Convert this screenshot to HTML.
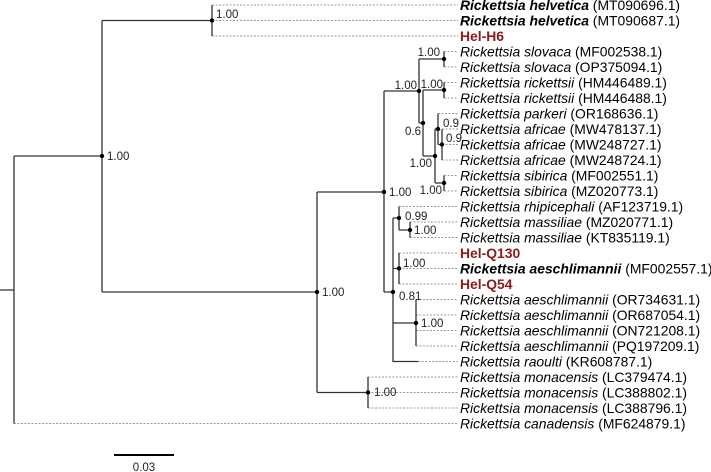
<!DOCTYPE html>
<html><head><meta charset="utf-8"><style>
html,body{margin:0;padding:0;background:#fff;}
svg{display:block;}
.s{stroke:#333;stroke-width:1.3;fill:none;}
.d{stroke:#999;stroke-width:1;stroke-dasharray:2,1.5;fill:none;}
.n{font-family:"Liberation Sans",sans-serif;font-size:11.5px;fill:#222;}
.l{font-family:"Liberation Sans",sans-serif;font-size:13.9px;fill:#000;}
.r{font-weight:bold;fill:#8b1a1a;}
</style></head><body>
<svg width="711" height="472" viewBox="0 0 711 472" xmlns="http://www.w3.org/2000/svg">
<g class="d">
<path d="M212 5H458M212 20.5H458M212 36H458"/>
<path d="M444 51.5H458M444 67H458M444 82.5H458M444 98H458"/>
<path d="M438 113.5H458M442 129H458M442 144.5H458M442 160H458"/>
<path d="M444 175.5H458M444 191H458"/>
<path d="M399 206.5H458M410 222H458M410 237.5H458"/>
<path d="M399 253H458M399 268.5H458M399 284H458"/>
<path d="M416 299.5H458M416 315H458M416 330.5H458M416 346H458"/>
<path d="M418 361.5H458"/>
<path d="M368 377H458M368 392.5H458M368 408H458"/>
<path d="M14 423.5H458"/>
</g>
<g class="s">
<path d="M0 290H14M14 156V423.5"/>
<path d="M14 156H102M102 20.5V292"/>
<path d="M102 20.5H212M212 5V36"/>
<path d="M102 292H317M317 192V392.5"/>
<path d="M317 392.5H368M368 377V408"/>
<path d="M317 192H384M384 91V292"/>
<path d="M384 91H419M419 59V123"/>
<path d="M419 59H444M444 51.5V67"/>
<path d="M419 123H423M423 90V156"/>
<path d="M423 90H444M444 82.5V98"/>
<path d="M423 156H435M435 129V183"/>
<path d="M435 183H444M444 175.5V191"/>
<path d="M435 129H438M438 113.5V144.5"/>
<path d="M438 144.5H442M442 129V160"/>
<path d="M384 292H393M393 218V361.5H418"/>
<path d="M393 218H399M399 206.5V230"/>
<path d="M399 230H410M410 222V237.5"/>
<path d="M393 268.5H399M399 253V284"/>
<path d="M393 323H416M416 299.5V346"/>
</g>
<g fill="#000">
<circle cx="212" cy="20.5" r="2.2"/><circle cx="102" cy="156" r="2.2"/>
<circle cx="317" cy="292" r="2.2"/><circle cx="368" cy="392.5" r="2.2"/>
<circle cx="384" cy="192" r="2.2"/><circle cx="419" cy="91" r="2.2"/>
<circle cx="444" cy="59" r="2.2"/><circle cx="423" cy="123" r="2.2"/>
<circle cx="444" cy="90" r="2.2"/><circle cx="435" cy="156" r="2.2"/>
<circle cx="444" cy="183" r="2.2"/><circle cx="438" cy="129" r="2.2"/>
<circle cx="442" cy="144.5" r="2.2"/><circle cx="393" cy="292" r="2.2"/>
<circle cx="399" cy="218" r="2.2"/><circle cx="410" cy="230" r="2.2"/>
<circle cx="399" cy="268.5" r="2.2"/><circle cx="416" cy="323" r="2.2"/>
</g>
<g class="n">
<text x="216" y="18">1.00</text>
<text x="107" y="160">1.00</text>
<text x="322" y="296">1.00</text>
<text x="389" y="196">1.00</text>
<text x="417" y="89" text-anchor="end">1.00</text>
<text x="440" y="56" text-anchor="end">1.00</text>
<text x="443" y="88" text-anchor="end">1.00</text>
<text x="421" y="135" text-anchor="end">0.6</text>
<text x="432" y="167" text-anchor="end">1.00</text>
<text x="442" y="194" text-anchor="end">1.00</text>
<text x="443" y="127">0.9</text>
<text x="446" y="142">0.9</text>
<text x="405" y="220">0.99</text>
<text x="414" y="234">1.00</text>
<text x="403" y="267">1.00</text>
<text x="399" y="300">0.81</text>
<text x="421" y="327">1.00</text>
<text x="374" y="396">1.00</text>
</g>
<g class="l">
<text x="460" y="10"><tspan font-weight="bold" font-style="italic">Rickettsia helvetica</tspan> (MT090696.1)</text>
<text x="460" y="25.5"><tspan font-weight="bold" font-style="italic">Rickettsia helvetica</tspan> (MT090687.1)</text>
<text x="460" y="41" class="l r">Hel-H6</text>
<text x="460" y="56.5"><tspan font-style="italic">Rickettsia slovaca</tspan> (MF002538.1)</text>
<text x="460" y="72"><tspan font-style="italic">Rickettsia slovaca</tspan> (OP375094.1)</text>
<text x="460" y="87.5"><tspan font-style="italic">Rickettsia rickettsii</tspan> (HM446489.1)</text>
<text x="460" y="103"><tspan font-style="italic">Rickettsia rickettsii</tspan> (HM446488.1)</text>
<text x="460" y="118.5"><tspan font-style="italic">Rickettsia parkeri</tspan> (OR168636.1)</text>
<text x="460" y="134"><tspan font-style="italic">Rickettsia africae</tspan> (MW478137.1)</text>
<text x="460" y="149.5"><tspan font-style="italic">Rickettsia africae</tspan> (MW248727.1)</text>
<text x="460" y="165"><tspan font-style="italic">Rickettsia africae</tspan> (MW248724.1)</text>
<text x="460" y="180.5"><tspan font-style="italic">Rickettsia sibirica</tspan> (MF002551.1)</text>
<text x="460" y="196"><tspan font-style="italic">Rickettsia sibirica</tspan> (MZ020773.1)</text>
<text x="460" y="211.5"><tspan font-style="italic">Rickettsia rhipicephali</tspan> (AF123719.1)</text>
<text x="460" y="227"><tspan font-style="italic">Rickettsia massiliae</tspan> (MZ020771.1)</text>
<text x="460" y="242.5"><tspan font-style="italic">Rickettsia massiliae</tspan> (KT835119.1)</text>
<text x="460" y="258" class="l r">Hel-Q130</text>
<text x="460" y="273.5"><tspan font-weight="bold" font-style="italic">Rickettsia aeschlimannii</tspan> (MF002557.1)</text>
<text x="460" y="289" class="l r">Hel-Q54</text>
<text x="460" y="304.5"><tspan font-style="italic">Rickettsia aeschlimannii</tspan> (OR734631.1)</text>
<text x="460" y="320"><tspan font-style="italic">Rickettsia aeschlimannii</tspan> (OR687054.1)</text>
<text x="460" y="335.5"><tspan font-style="italic">Rickettsia aeschlimannii</tspan> (ON721208.1)</text>
<text x="460" y="351"><tspan font-style="italic">Rickettsia aeschlimannii</tspan> (PQ197209.1)</text>
<text x="460" y="366.5"><tspan font-style="italic">Rickettsia raoulti</tspan> (KR608787.1)</text>
<text x="460" y="382"><tspan font-style="italic">Rickettsia monacensis</tspan> (LC379474.1)</text>
<text x="460" y="397.5"><tspan font-style="italic">Rickettsia monacensis</tspan> (LC388802.1)</text>
<text x="460" y="413"><tspan font-style="italic">Rickettsia monacensis</tspan> (LC388796.1)</text>
<text x="460" y="428.5"><tspan font-style="italic">Rickettsia canadensis</tspan> (MF624879.1)</text>
</g>
<path d="M114 455H174" stroke="#000" stroke-width="2"/>
<text x="144" y="471" text-anchor="middle" class="n" font-size="13">0.03</text>
</svg>
</body></html>
